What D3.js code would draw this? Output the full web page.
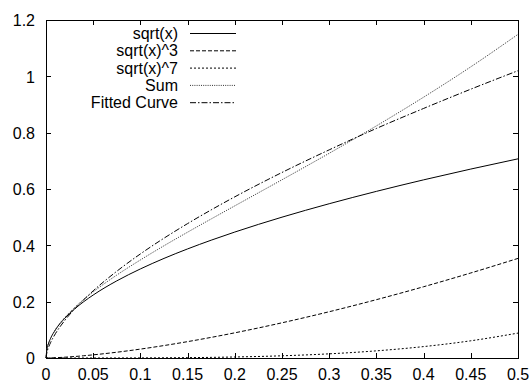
<!DOCTYPE html>
<html>
<head>
<meta charset="utf-8">
<script src="https://cdn.jsdelivr.net/npm/d3@7"></script>
<style>
  body { margin: 0; background: #fff; }
  text { font-family: "Liberation Sans", Arial, sans-serif; font-size: 16px; fill: #000; }
</style>
</head>
<body>
<svg id="chart" width="532" height="382"></svg>
<script>
// sample positions along x
const xs = [0, 0.001, 0.0025, 0.005, 0.01, 0.02, 0.03, 0.04, 0.05, 0.075, 0.1,
  0.125, 0.15, 0.175, 0.2, 0.25, 0.3, 0.35, 0.4, 0.45, 0.5];

// values for each curve
const sqrtX = [0, 0.0316, 0.05, 0.0707, 0.1, 0.1414, 0.1732, 0.2, 0.2236, 0.2739, 0.3162,
  0.3536, 0.3873, 0.4183, 0.4472, 0.5, 0.5477, 0.5916, 0.6325, 0.6708, 0.7071];
const sqrtX3 = [0, 0.00003, 0.000125, 0.00035, 0.001, 0.0028, 0.0052, 0.008, 0.0112, 0.0205, 0.0316,
  0.0442, 0.0581, 0.0732, 0.0894, 0.125, 0.1643, 0.2071, 0.253, 0.3019, 0.3536];
const sqrtX7 = [0, 0, 0, 0, 0, 0, 0, 0.00001, 0.00003, 0.0001, 0.0003,
  0.0007, 0.0013, 0.0022, 0.0036, 0.0078, 0.0148, 0.0254, 0.0405, 0.0611, 0.0884];
const sumVals = [0, 0.0316, 0.0501, 0.0711, 0.101, 0.1442, 0.1784, 0.208, 0.2348, 0.2945, 0.3481,
  0.3985, 0.4467, 0.4937, 0.5402, 0.6328, 0.7268, 0.8241, 0.926, 1.0338, 1.1491];
const fitted = [0, 0.0202, 0.036, 0.0558, 0.0864, 0.1338, 0.1728, 0.207, 0.2385, 0.308, 0.3695,
  0.4254, 0.4772, 0.5259, 0.5722, 0.6587, 0.739, 0.815, 0.886, 0.9544, 1.02];

const seriesNames = ["sqrt(x)", "sqrt(x)^3", "sqrt(x)^7", "Sum", "Fitted Curve"];
const seriesValues = [sqrtX, sqrtX3, sqrtX7, sumVals, fitted];
const xTicks = [0, 0.05, 0.1, 0.15, 0.2, 0.25, 0.3, 0.35, 0.4, 0.45, 0.5];
const yTicks = [0, 0.2, 0.4, 0.6, 0.8, 1, 1.2];

// line styles (gnuplot-ish)
const DASHES = [null, "4,2", "2,2", "1,1.2", "6,2,1.5,2"];
const STROKES = ["#000", "#000", "#000", "#333", "#000"];

const svg = d3.select("#chart");
const MARGIN = { top: 20, right: 14, bottom: 24, left: 46 };
const WIDTH = 532, HEIGHT = 382;

const x = d3.scaleLinear().domain([0, 0.5]).range([MARGIN.left, WIDTH - MARGIN.right]);
const y = d3.scaleLinear().domain([0, 1.2]).range([HEIGHT - MARGIN.bottom, MARGIN.top]);

const TICK = 5;

// frame
svg.append("rect")
  .attr("x", x(0) + 0.5).attr("y", y(1.2) + 0.5)
  .attr("width", x(0.5) - x(0)).attr("height", y(0) - y(1.2))
  .attr("fill", "none").attr("stroke", "#000").attr("stroke-width", 1);

// inward ticks on all four sides
const ticksG = svg.append("g").attr("stroke", "#000").attr("stroke-width", 1);
xTicks.forEach((t) => {
  const px = Math.round(x(t)) + 0.5;
  ticksG.append("line").attr("x1", px).attr("x2", px)
    .attr("y1", y(0)).attr("y2", y(0) - TICK);
  ticksG.append("line").attr("x1", px).attr("x2", px)
    .attr("y1", y(1.2)).attr("y2", y(1.2) + TICK);
});
yTicks.forEach((t) => {
  const py = Math.round(y(t)) + 0.5;
  ticksG.append("line").attr("x1", x(0)).attr("x2", x(0) + TICK)
    .attr("y1", py).attr("y2", py);
  ticksG.append("line").attr("x1", x(0.5)).attr("x2", x(0.5) - TICK)
    .attr("y1", py).attr("y2", py);
});

// tick labels
svg.append("g").selectAll("text").data(xTicks).join("text")
  .attr("x", (d) => x(d)).attr("y", 380)
  .attr("text-anchor", "middle")
  .text((d) => d);
svg.append("g").selectAll("text").data(yTicks).join("text")
  .attr("x", 35).attr("y", (d) => y(d)).attr("dy", "0.4em")
  .attr("text-anchor", "end")
  .text((d) => d);

// curves
const line = d3.line().x((d, i) => x(xs[i])).y((d) => y(d)).curve(d3.curveMonotoneX);
seriesValues.forEach((vals, i) => {
  svg.append("path")
    .datum(vals)
    .attr("d", line)
    .attr("fill", "none")
    .attr("stroke", STROKES[i])
    .attr("stroke-width", 1)
    .attr("stroke-dasharray", DASHES[i]);
});

// legend
const legend = svg.append("g");
seriesNames.forEach((name, i) => {
  const ly = 33.5 + i * 17.3;
  legend.append("text")
    .attr("x", 178).attr("y", ly).attr("dy", "0.35em")
    .attr("text-anchor", "end")
    .text(name);
  legend.append("line")
    .attr("x1", 190).attr("x2", 236)
    .attr("y1", ly).attr("y2", ly)
    .attr("stroke", STROKES[i]).attr("stroke-width", 1)
    .attr("stroke-dasharray", DASHES[i]);
});
</script>
</body>
</html>
